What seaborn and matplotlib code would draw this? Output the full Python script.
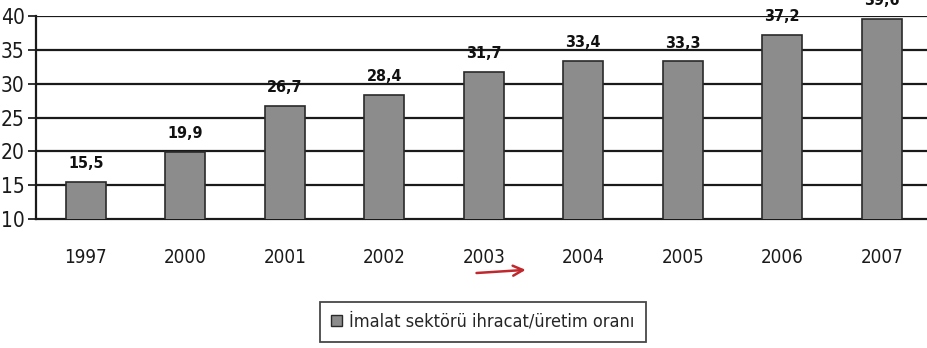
import matplotlib
matplotlib.use("Agg")
import matplotlib.pyplot as plt
import matplotlib.patches as mpatches
import matplotlib.transforms as mtransforms
import seaborn as sns
import pandas as pd

years = ["1997", "2000", "2001", "2002", "2003", "2004", "2005", "2006", "2007"]
ratios = [15.5, 19.9, 26.7, 28.4, 31.7, 33.4, 33.3, 37.2, 39.6]
series_label = "İmalat sektörü ihracat/üretim oranı"
y_ticks = [10, 15, 20, 25, 30, 35, 40]

sns.set_theme(style="white")
plt.rcParams["font.family"] = ["DejaVu Sans"]
plt.rcParams["font.stretch"] = "condensed"

df = pd.DataFrame({"yil": years, "oran": ratios})

fig = plt.figure(figsize=(9.27, 3.48), dpi=100)
ax = fig.add_axes([0.0388, 0.3707, 0.966, 0.583])

bar_color = "#8c8c8c"
sns.barplot(data=df, x="yil", y="oran", color=bar_color, width=0.4,
            edgecolor="#2a2a2a", linewidth=1.2, ax=ax, zorder=3,
            saturation=1)

ax.set_ylim(10, 40)
ax.set_xlim(-0.5, len(years) - 0.5)
ax.set_yticks(y_ticks)
ax.set_yticklabels([str(t) for t in y_ticks], fontsize=15, color="#1a1a1a")
ax.set_xlabel("")
ax.set_ylabel("")

# horizontal gridlines
for t in y_ticks[1:]:
    ax.axhline(t, color="#1a1a1a", linewidth=1.6, zorder=1)

# value labels above the bars
for i, v in enumerate(ratios):
    ax.text(i, v + 1.6, f"{v:.1f}".replace(".", ","), ha="center", va="bottom",
            fontsize=11.5, fontweight="bold", color="#111111", clip_on=False)

# category labels centered, tick marks between categories
ax.set_xticks(range(len(years)))
ax.set_xticklabels(years, fontsize=13.5, color="#1a1a1a")
ax.tick_params(axis="x", which="major", length=0, pad=21)
ax.set_xticks([i + 0.5 for i in range(len(years) - 1)], minor=True)
ax.tick_params(axis="x", which="minor", length=6, width=1.3, color="#222222",
               direction="out")
ax.tick_params(axis="y", length=6, width=1.3, color="#222222", pad=2,
               direction="out", left=True)

for side in ["top", "right"]:
    ax.spines[side].set_visible(False)
for side in ["left", "bottom"]:
    ax.spines[side].set_color("#1a1a1a")
    ax.spines[side].set_linewidth(1.6)

# legend
handle = mpatches.Patch(facecolor=bar_color, edgecolor="#2a2a2a", linewidth=1.0)
leg = fig.legend([handle], [series_label], loc="center",
                 bbox_to_anchor=(0.521, 0.075), frameon=True, fontsize=13,
                 handlelength=0.6, handleheight=0.6, handletextpad=0.4,
                 borderpad=0.6, fancybox=False)
leg.get_frame().set_edgecolor("#1a1a1a")
leg.get_frame().set_linewidth(1.3)

# red hand-drawn arrow under 2003
trans = mtransforms.blended_transform_factory(ax.transData, fig.transFigure)
ax.annotate("", xy=(4.45, 0.225), xytext=(3.9, 0.215), xycoords=trans,
            textcoords=trans,
            arrowprops=dict(arrowstyle="->", color="#c0282d", lw=1.8,
                            mutation_scale=18), annotation_clip=False)

fig.savefig("out.png", dpi=100)
